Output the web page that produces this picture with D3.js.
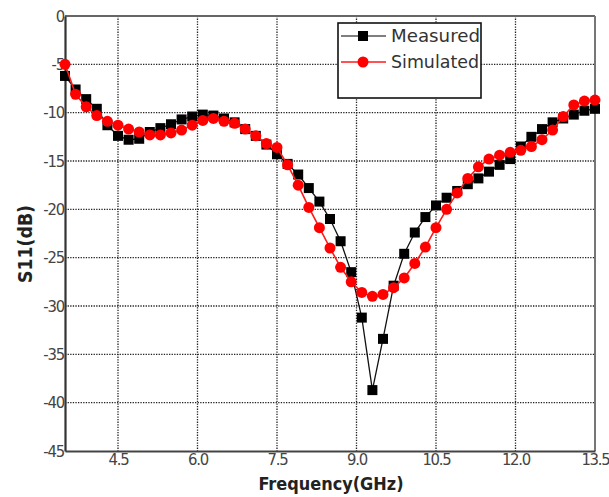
<!DOCTYPE html>
<html>
<head>
<meta charset="utf-8">
<script src="https://cdn.jsdelivr.net/npm/d3@7/dist/d3.min.js"></script>
<style>
  html, body { margin: 0; padding: 0; background: #fff; }
  svg { display: block; }
  .tick text { font-family: "DejaVu Sans Condensed", "DejaVu Sans", sans-serif; }
</style>
</head>
<body>
<svg id="chart" width="609" height="497"></svg>
<script>
// Frequency sweep (GHz), 0.2 GHz step
const freq = d3.range(51).map(i => +(3.5 + i * 0.2).toFixed(1));

// Return loss S11 (dB)
const measured = [
  -6.2, -7.6, -8.6, -9.6, -11.3, -12.4, -12.8, -12.7, -12.0, -11.6,
  -11.2, -10.7, -10.4, -10.2, -10.3, -10.6, -11.0, -11.7, -12.4, -13.3,
  -14.3, -15.3, -16.4, -17.8, -19.2, -21.0, -23.3, -26.5, -31.2, -38.7,
  -33.4, -27.9, -24.6, -22.4, -20.8, -19.6, -18.8, -18.1, -17.4, -16.8,
  -16.1, -15.4, -14.8, -13.5, -12.5, -11.7, -11.0, -10.6, -10.2, -9.8,
  -9.6
];
const simulated = [
  -5.0, -8.1, -9.4, -10.3, -10.9, -11.3, -11.7, -12.0, -12.3, -12.3,
  -12.1, -11.8, -11.3, -10.8, -10.6, -10.9, -11.1, -11.7, -12.4, -13.2,
  -13.6, -15.4, -17.5, -19.8, -21.9, -24.0, -26.0, -27.5, -28.6, -29.0,
  -28.8, -28.1, -27.1, -25.6, -23.9, -21.9, -20.0, -18.3, -16.8, -15.6,
  -14.8, -14.4, -14.1, -13.9, -13.5, -12.8, -11.8, -10.4, -9.2, -8.8,
  -8.7
];

const xTicks = [4.5, 6.0, 7.5, 9.0, 10.5, 12.0, 13.5];
const yTicks = [0, -5, -10, -15, -20, -25, -30, -35, -40, -45];
const seriesNames = ["Measured", "Simulated"];

const svg = d3.select("#chart");
const plot = { left: 65, right: 595, top: 16, bottom: 451 };

const x = d3.scaleLinear().domain([3.5, 13.5]).range([plot.left, plot.right]);
const y = d3.scaleLinear().domain([-45, 0]).range([plot.bottom, plot.top]);

// Dotted grid
const grid = svg.append("g");
grid.selectAll(".gx").data(xTicks.filter(d => d < 13.5)).join("line")
  .attr("x1", d => x(d)).attr("x2", d => x(d))
  .attr("y1", plot.top).attr("y2", plot.bottom)
  .attr("stroke", "#222").attr("stroke-width", 1.3).attr("stroke-dasharray", "1.3,1.3");
grid.selectAll(".gy").data(yTicks.filter(d => d < 0 && d > -45)).join("line")
  .attr("x1", plot.left).attr("x2", plot.right)
  .attr("y1", d => y(d)).attr("y2", d => y(d))
  .attr("stroke", "#222").attr("stroke-width", 1.3).attr("stroke-dasharray", "1.3,1.3");

// Frame
svg.append("line").attr("x1", plot.left).attr("x2", plot.right).attr("y1", plot.top).attr("y2", plot.top)
  .attr("stroke", "#666").attr("stroke-width", 2);
svg.append("line").attr("x1", plot.right).attr("x2", plot.right).attr("y1", plot.top).attr("y2", plot.bottom)
  .attr("stroke", "#777").attr("stroke-width", 2);

// Axes
const xAxis = svg.append("g").attr("transform", `translate(0,${plot.bottom})`)
  .call(d3.axisBottom(x).tickValues(xTicks).tickSize(0).tickPadding(0).tickFormat(d3.format(".1f")));
xAxis.select(".domain").attr("stroke", "#444").attr("stroke-width", 2.2);
xAxis.selectAll("text").attr("font-size", 16.5).attr("fill", "#444")
  .attr("letter-spacing", "-1.2").attr("dy", "0.9em").attr("y", -1);

const yAxis = svg.append("g").attr("transform", `translate(${plot.left},0)`)
  .call(d3.axisLeft(y).tickValues(yTicks).tickSize(0).tickPadding(1).tickFormat(d => String(d)));
yAxis.select(".domain").attr("stroke", "#333").attr("stroke-width", 2.2);
yAxis.selectAll("text").attr("font-size", 16.5).attr("fill", "#444").attr("letter-spacing", "-1.2");

// Axis titles
svg.append("text")
  .attr("x", 331).attr("y", 490)
  .attr("text-anchor", "middle")
  .attr("font-family", "'DejaVu Sans Condensed', 'DejaVu Sans', sans-serif")
  .attr("font-weight", "bold").attr("font-size", 18).attr("fill", "#222")
  .attr("textLength", 145).attr("lengthAdjust", "spacingAndGlyphs")
  .text("Frequency(GHz)");
svg.append("text")
  .attr("transform", "translate(32,244) rotate(-90)")
  .attr("text-anchor", "middle")
  .attr("font-family", "'DejaVu Sans Condensed', 'DejaVu Sans', sans-serif")
  .attr("font-weight", "bold").attr("font-size", 19).attr("fill", "#222")
  .attr("textLength", 78).attr("lengthAdjust", "spacingAndGlyphs")
  .text("S11(dB)");

// Series
const line = d3.line().x((d, i) => x(freq[i])).y(d => y(d));

const gm = svg.append("g");
gm.append("path").datum(measured).attr("d", line)
  .attr("fill", "none").attr("stroke", "#111").attr("stroke-width", 1.3);
gm.selectAll("rect").data(measured).join("rect")
  .attr("x", (d, i) => x(freq[i]) - 5).attr("y", d => y(d) - 5)
  .attr("width", 10).attr("height", 10).attr("fill", "#000");

const gs = svg.append("g");
gs.append("path").datum(simulated).attr("d", line)
  .attr("fill", "none").attr("stroke", "#ff1a1a").attr("stroke-width", 1.6);
gs.selectAll("circle").data(simulated).join("circle")
  .attr("cx", (d, i) => x(freq[i])).attr("cy", d => y(d))
  .attr("r", 5.5).attr("fill", "#ff0000");

// Legend
const lg = svg.append("g");
lg.append("rect").attr("x", 338).attr("y", 23).attr("width", 143).attr("height", 75)
  .attr("fill", "#fff").attr("stroke", "#111").attr("stroke-width", 1.6);
const entries = lg.selectAll("g.entry").data(seriesNames).join("g")
  .attr("transform", (d, i) => `translate(0,${36 + i * 26})`);
entries.append("line").attr("x1", 341).attr("x2", 386).attr("y1", 0).attr("y2", 0)
  .attr("stroke", (d, i) => i === 0 ? "#555" : "#ff1a1a").attr("stroke-width", 1.6);
entries.filter((d, i) => i === 0).append("rect")
  .attr("x", 358).attr("y", -5).attr("width", 10).attr("height", 10).attr("fill", "#000");
entries.filter((d, i) => i === 1).append("circle")
  .attr("cx", 363).attr("cy", 0).attr("r", 5.5).attr("fill", "#ff0000");
entries.append("text")
  .attr("x", 391).attr("y", 0).attr("dy", "0.36em")
  .attr("font-family", "'DejaVu Sans Condensed', 'DejaVu Sans', sans-serif")
  .attr("font-size", 17).attr("fill", "#333")
  .attr("textLength", (d, i) => i === 0 ? 89 : 88).attr("lengthAdjust", "spacingAndGlyphs")
  .text(d => d);
</script>
</body>
</html>
